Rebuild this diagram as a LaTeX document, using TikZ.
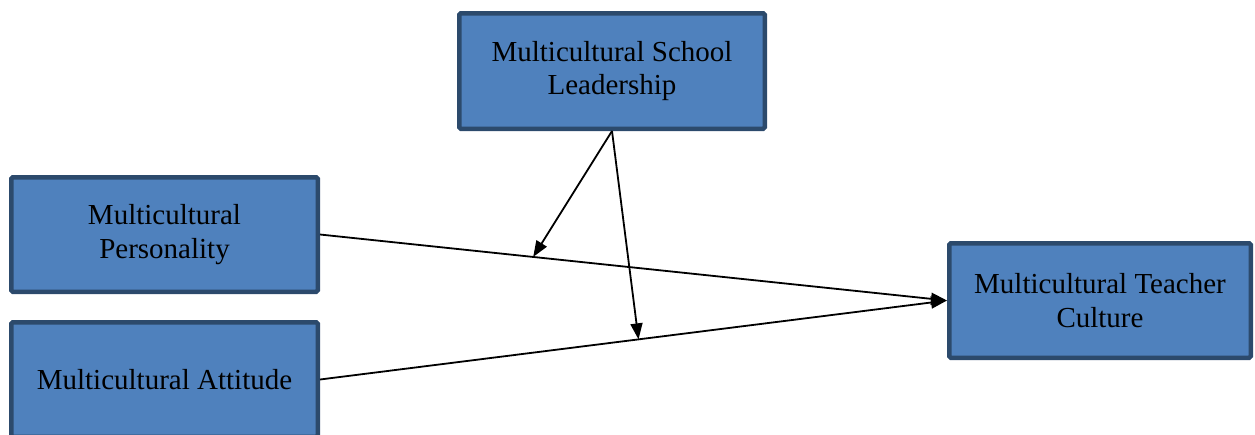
\documentclass[tikz,border=0pt]{standalone}
\usepackage{fontspec}
\setmainfont{Liberation Serif}
\usetikzlibrary{arrows.meta,calc}
\definecolor{boxfill}{HTML}{4F81BD}
\definecolor{boxline}{HTML}{2C4A6C}
\tikzset{
  varbox/.style={draw=boxline, fill=boxfill, line width=4.5pt, rounded corners=1.5pt,
    inner sep=0pt, align=center, text=black,
    font=\fontsize{29}{33.5}\selectfont},
  link/.style={line width=1.8pt, -{Triangle[length=16pt,width=12pt]}, shorten >=0pt}
}
\begin{document}
\begin{tikzpicture}[x=1pt,y=-1pt]
\useasboundingbox (0,0) rectangle (1255,434);
\node[varbox, minimum width=305.5pt, minimum height=115.5pt] (lead) at (612,71) {Multicultural School\\Leadership};
\node[varbox, minimum width=306.5pt, minimum height=114.5pt] (pers) at (164.5,234.5) {Multicultural\\Personality};
\node[varbox, minimum width=306.5pt, minimum height=114.5pt] (att) at (164.5,379.5) {Multicultural Attitude};
\node[varbox, minimum width=301.5pt, minimum height=114.5pt] (teach) at (1100,300.5) {Multicultural Teacher\\Culture};
\coordinate (pe) at (pers.east);
\coordinate (ae) at (att.east);
\coordinate (tw) at (teach.west);
\draw[link] (pe) -- (tw);
\draw[link] (ae) -- (tw);
\coordinate (m1) at ($(pe)!0.34!(tw)$);
\coordinate (m2) at ($(ae)!0.508!(tw)$);
\draw[link] (lead.south) -- (m1);
\draw[link] (lead.south) -- (m2);
\end{tikzpicture}
\end{document}
